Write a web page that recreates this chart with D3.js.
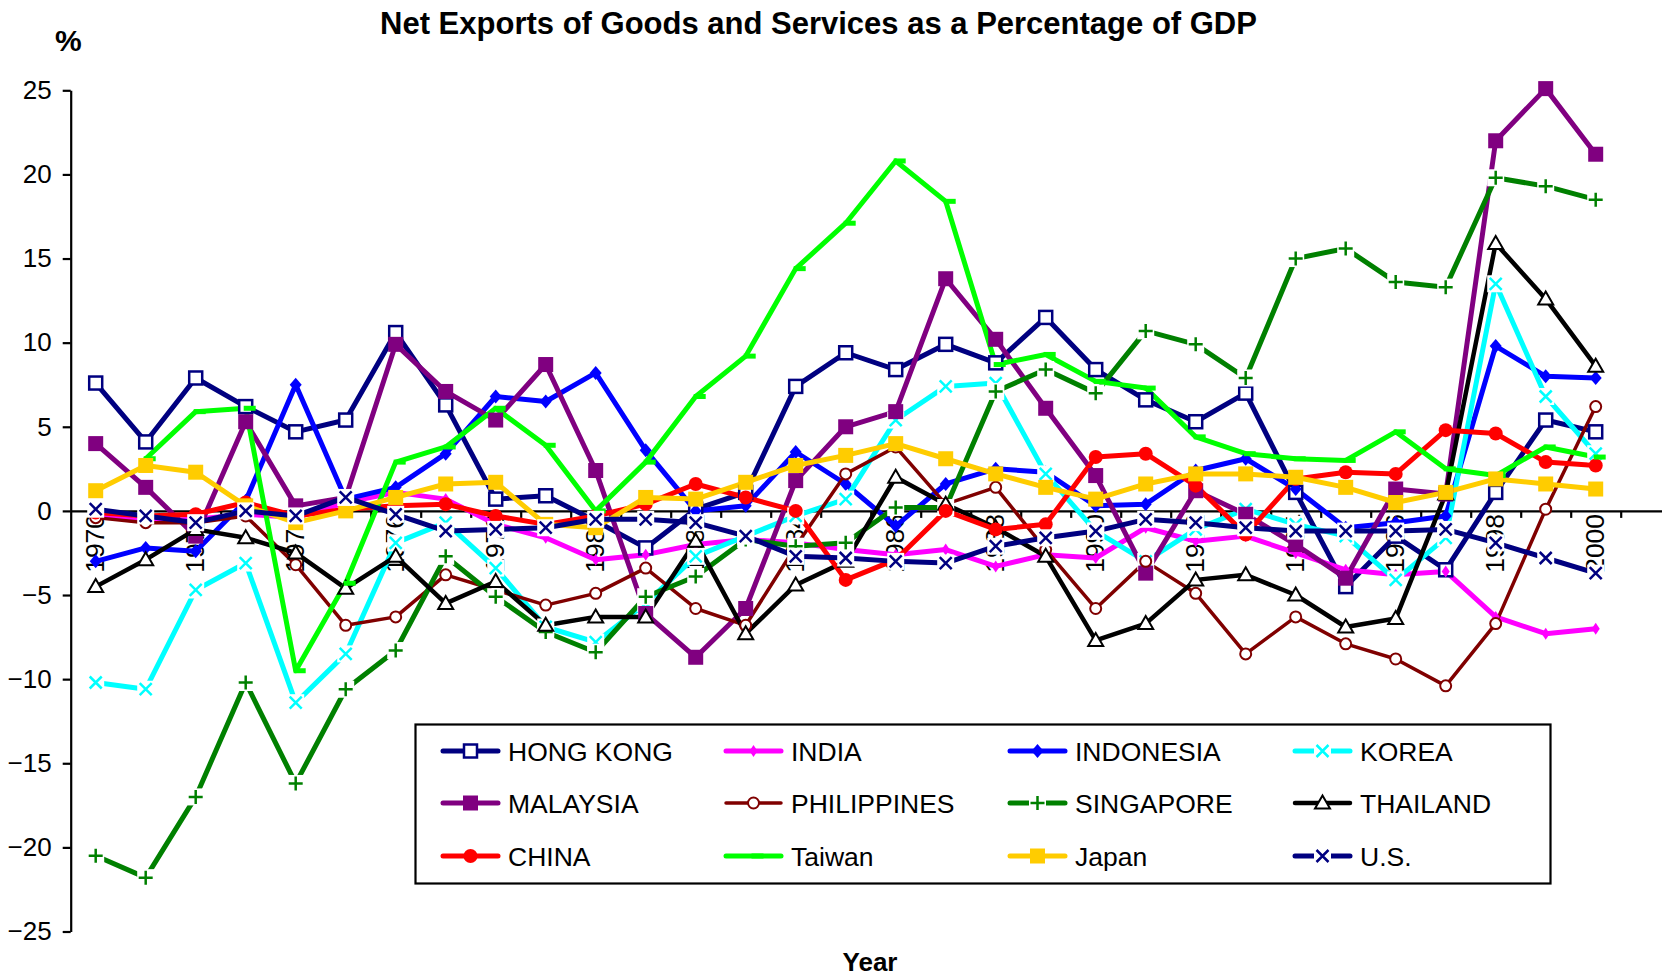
<!DOCTYPE html>
<html>
<head>
<meta charset="utf-8">
<script src="https://cdn.jsdelivr.net/npm/d3@7"></script>
<style>
  html, body { margin: 0; padding: 0; background: #fff; }
  svg { display: block; font-family: "Liberation Sans", Arial, sans-serif; }
</style>
</head>
<body>
<svg id="chart" width="1662" height="978"></svg>
<script>
// Net exports of goods and services, % of GDP, 1970-2000
const years = d3.range(1970, 2001);
const yTicks = [-25, -20, -15, -10, -5, 0, 5, 10, 15, 20, 25];
const yearLabels = [1970, 1972, 1974, 1976, 1978, 1980, 1982, 1984, 1986, 1988, 1990, 1992, 1994, 1996, 1998, 2000];

const hongKong    = [7.6, 4.1, 7.9, 6.2, 4.7, 5.4, 10.6, 6.3, 0.7, 0.9, -0.6, -2.2, 0.1, 1.1, 7.4, 9.4, 8.4, 9.9, 8.8, 11.5, 8.4, 6.6, 5.3, 7.0, 1.1, -4.5, -1.5, -3.5, 1.1, 5.4, 4.7];
const india       = [-0.3, -0.6, -0.5, -0.2, -0.4, 0.5, 1.1, 0.7, -0.8, -1.6, -2.9, -2.6, -2.0, -1.7, -1.9, -2.3, -2.6, -2.3, -3.3, -2.6, -2.8, -1.0, -1.8, -1.5, -2.5, -3.5, -3.8, -3.6, -6.3, -7.3, -7.0];
const indonesia   = [-3.0, -2.2, -2.4, 0.6, 7.5, 0.7, 1.4, 3.4, 6.8, 6.5, 8.2, 3.6, 0.0, 0.3, 3.5, 1.6, -0.9, 1.6, 2.5, 2.3, 0.3, 0.4, 2.4, 3.1, 1.3, -1.0, -0.7, -0.3, 9.8, 8.0, 7.9];
const korea       = [-10.2, -10.6, -4.7, -3.1, -11.4, -8.5, -1.9, -0.7, -3.4, -6.9, -7.8, -5.5, -2.7, -1.5, -0.3, 0.7, 5.4, 7.4, 7.6, 2.2, -1.2, -3.0, -1.1, 0.1, -0.8, -1.5, -4.1, -1.6, 13.5, 6.8, 3.4];
const malaysia    = [4.0, 1.4, -1.5, 5.3, 0.3, 0.8, 9.9, 7.1, 5.4, 8.7, 2.4, -6.1, -8.7, -5.8, 1.8, 5.0, 5.9, 13.8, 10.2, 6.1, 2.1, -3.7, 1.2, -0.2, -2.0, -4.0, 1.3, 1.0, 22.0, 25.1, 21.2];
const philippines = [-0.4, -0.7, -0.7, -0.3, -3.2, -6.8, -6.3, -3.8, -4.7, -5.6, -4.9, -3.4, -5.8, -6.8, -2.1, 2.2, 3.8, 0.4, 1.4, -2.3, -5.8, -3.0, -4.9, -8.5, -6.3, -7.9, -8.8, -10.4, -6.7, 0.1, 6.2];
const singapore   = [-20.5, -21.8, -17.0, -10.2, -16.2, -10.6, -8.3, -2.7, -5.1, -7.2, -8.4, -5.1, -3.9, -1.7, -2.1, -1.9, 0.2, 0.2, 7.1, 8.4, 7.0, 10.7, 9.9, 7.9, 15.0, 15.6, 13.6, 13.3, 19.8, 19.3, 18.5];
const thailand    = [-4.5, -2.9, -1.1, -1.6, -2.5, -4.6, -2.7, -5.5, -4.2, -6.8, -6.3, -6.3, -1.8, -7.3, -4.4, -3.0, 2.0, 0.4, -1.0, -2.7, -7.7, -6.7, -4.1, -3.8, -5.0, -6.9, -6.4, 1.0, 15.9, 12.6, 8.6];
const china       = [-0.1, -0.3, -0.2, 0.5, -0.3, 0.1, 0.3, 0.4, -0.3, -0.8, -0.3, 0.4, 1.6, 0.8, 0.0, -4.1, -2.9, 0.0, -1.1, -0.8, 3.2, 3.4, 1.5, -1.4, 1.9, 2.3, 2.2, 4.8, 4.6, 2.9, 2.7];
const taiwan      = [null, 3.1, 5.9, 6.1, -9.5, -4.3, 2.9, 3.8, 6.1, 3.9, 0.0, 2.9, 6.8, 9.2, 14.4, 17.1, 20.8, 18.4, 8.7, 9.3, 7.7, 7.3, 4.4, 3.4, 3.1, 3.0, 4.7, 2.5, 2.1, 3.8, 3.2];
const japan       = [1.2, 2.7, 2.3, 0.3, -0.7, 0.0, 0.8, 1.6, 1.7, -0.8, -1.0, 0.8, 0.7, 1.7, 2.7, 3.3, 4.0, 3.1, 2.2, 1.4, 0.7, 1.6, 2.2, 2.2, 2.0, 1.4, 0.5, 1.1, 1.9, 1.6, 1.3];
const us          = [0.1, -0.3, -0.7, 0.0, -0.3, 0.8, -0.2, -1.2, -1.1, -1.0, -0.5, -0.5, -0.7, -1.5, -2.7, -2.8, -3.0, -3.1, -2.1, -1.6, -1.2, -0.5, -0.7, -1.0, -1.2, -1.2, -1.2, -1.1, -1.9, -2.8, -3.7];

const seriesNames = ["HONG KONG", "INDIA", "INDONESIA", "KOREA", "MALAYSIA", "PHILIPPINES",
                     "SINGAPORE", "THAILAND", "CHINA", "Taiwan", "Japan", "U.S."];
const seriesValues = [hongKong, india, indonesia, korea, malaysia, philippines,
                      singapore, thailand, china, taiwan, japan, us];

// drawing style for each series, in legend order
const styles = [
  { color: "#000080", width: 5,   marker: "squareOpen" },
  { color: "#FF00FF", width: 5,   marker: "diamondSmall" },
  { color: "#0000FF", width: 5,   marker: "diamond" },
  { color: "#00FFFF", width: 5,   marker: "cross" },
  { color: "#800080", width: 5,   marker: "squareFilled" },
  { color: "#800000", width: 3.5, marker: "circleOpen" },
  { color: "#008000", width: 5,   marker: "plus" },
  { color: "#000000", width: 4.5, marker: "triangleOpen" },
  { color: "#FF0000", width: 5,   marker: "circleFilled" },
  { color: "#00FF00", width: 5,   marker: "dash" },
  { color: "#FFCC00", width: 5,   marker: "squareFilled" },
  { color: "#000080", width: 5,   marker: "cross" }
];

const series = seriesNames.map((name, i) => ({ name, values: seriesValues[i], ...styles[i] }));

const W = 1662, H = 978;
const svg = d3.select("#chart");
svg.append("rect").attr("width", W).attr("height", H).attr("fill", "#fff");

const x = d3.scaleLinear().domain([1969.5, 2001.5]).range([70.7, 1670.7]);
const y = d3.scaleLinear().domain([-25, 25]).range([931.5, 90.3]);

// ---- axes ----
const yAxis = svg.append("g")
  .attr("transform", `translate(${x(1969.5)},0)`)
  .call(d3.axisLeft(y).tickValues(yTicks).tickSize(8).tickSizeOuter(0).tickPadding(11).tickFormat(d3.format("d")));
yAxis.select(".domain").attr("stroke", "#000").attr("stroke-width", 2.2);
yAxis.selectAll(".tick line").attr("stroke", "#000").attr("stroke-width", 2.2);
yAxis.selectAll(".tick text").attr("fill", "#000").attr("font-size", 26)
  .attr("font-family", "Liberation Sans, Arial, sans-serif");

const xAxis = svg.append("g")
  .attr("transform", `translate(0,${y(0)})`)
  .call(d3.axisBottom(x).tickValues(d3.range(1970.5, 2002, 1)).tickSize(7).tickSizeOuter(0).tickFormat(""));
xAxis.select(".domain").attr("stroke", "#000").attr("stroke-width", 2.2);
xAxis.selectAll(".tick line").attr("stroke", "#000").attr("stroke-width", 2.2);

// rotated year labels hanging below the zero line
svg.append("g").selectAll("text").data(yearLabels).join("text")
  .attr("transform", d => `translate(${x(d) - 1},${y(0) + 3}) rotate(-90)`)
  .attr("text-anchor", "end")
  .attr("dy", "0.36em")
  .attr("font-size", 26.5)
  .attr("fill", "#000")
  .text(d => d);

// ---- lines (all series first, markers on top) ----
const line = d3.line()
  .defined(d => d != null)
  .x((d, i) => x(years[i]))
  .y(d => y(d));

const linesG = svg.append("g");
series.forEach(s => {
  linesG.append("path")
    .attr("d", line(s.values))
    .attr("fill", "none")
    .attr("stroke", s.color)
    .attr("stroke-width", s.width)
    .attr("stroke-linejoin", "round")
    .attr("stroke-linecap", "round");
});

function drawMarker(g, type, color, cx, cy) {
  switch (type) {
    case "squareOpen":
      g.append("rect").attr("x", cx - 6.5).attr("y", cy - 6.5).attr("width", 13).attr("height", 13)
        .attr("fill", "#fff").attr("stroke", color).attr("stroke-width", 2.5);
      break;
    case "squareFilled":
      g.append("rect").attr("x", cx - 7.5).attr("y", cy - 7.5).attr("width", 15).attr("height", 15)
        .attr("fill", color);
      break;
    case "diamond":
      g.append("path").attr("d", `M${cx},${cy - 7}L${cx + 6},${cy}L${cx},${cy + 7}L${cx - 6},${cy}Z`)
        .attr("fill", color);
      break;
    case "diamondSmall":
      g.append("path").attr("d", `M${cx},${cy - 6}L${cx + 4},${cy}L${cx},${cy + 6}L${cx - 4},${cy}Z`)
        .attr("fill", color);
      break;
    case "cross":
      g.append("rect").attr("x", cx - 8.5).attr("y", cy - 8.5).attr("width", 17).attr("height", 17).attr("fill", "#fff");
      g.append("path").attr("d", `M${cx - 6},${cy - 6}L${cx + 6},${cy + 6}M${cx - 6},${cy + 6}L${cx + 6},${cy - 6}`)
        .attr("stroke", color).attr("stroke-width", 2.5).attr("fill", "none");
      break;
    case "plus":
      g.append("rect").attr("x", cx - 8.5).attr("y", cy - 8.5).attr("width", 17).attr("height", 17).attr("fill", "#fff");
      g.append("path").attr("d", `M${cx - 7},${cy}L${cx + 7},${cy}M${cx},${cy - 7}L${cx},${cy + 7}`)
        .attr("stroke", color).attr("stroke-width", 2.5).attr("fill", "none");
      break;
    case "circleOpen":
      g.append("circle").attr("cx", cx).attr("cy", cy).attr("r", 5.5)
        .attr("fill", "#fff").attr("stroke", color).attr("stroke-width", 2);
      break;
    case "circleFilled":
      g.append("circle").attr("cx", cx).attr("cy", cy).attr("r", 7).attr("fill", color);
      break;
    case "triangleOpen":
      g.append("path").attr("d", `M${cx},${cy - 7.5}L${cx + 7.5},${cy + 5.5}L${cx - 7.5},${cy + 5.5}Z`)
        .attr("fill", "#fff").attr("stroke", color).attr("stroke-width", 2).attr("stroke-linejoin", "miter");
      break;
    case "dash":
      g.append("rect").attr("x", cx - 2).attr("y", cy - 2.5).attr("width", 12).attr("height", 5).attr("fill", color);
      break;
  }
}

const markersG = svg.append("g");
series.forEach(s => {
  const g = markersG.append("g");
  s.values.forEach((v, i) => {
    if (v == null) return;
    drawMarker(g, s.marker, s.color, x(years[i]), y(v));
  });
});

// ---- legend ----
const legend = svg.append("g");
legend.append("rect").attr("x", 415.5).attr("y", 724.5).attr("width", 1135).attr("height", 159)
  .attr("fill", "#fff").attr("stroke", "#000").attr("stroke-width", 2.2);
const colX = [443, 726, 1010, 1295];
const rowY = [751, 803, 856];
series.forEach((s, i) => {
  const lx = colX[i % 4], ly = rowY[Math.floor(i / 4)];
  const g = legend.append("g");
  g.append("line").attr("x1", lx).attr("x2", lx + 55).attr("y1", ly).attr("y2", ly)
    .attr("stroke", s.color).attr("stroke-width", s.width).attr("stroke-linecap", "round");
  drawMarker(g, s.marker, s.color, lx + 27.5, ly);
  g.append("text").attr("x", lx + 65).attr("y", ly).attr("dy", "0.36em")
    .attr("font-size", 26.5).attr("fill", "#000").text(s.name);
});

// ---- titles ----
svg.append("text").attr("x", 818.5).attr("y", 34).attr("text-anchor", "middle")
  .attr("font-size", 31).attr("font-weight", "bold").attr("fill", "#000")
  .text("Net Exports of Goods and Services as a Percentage of GDP");
svg.append("text").attr("x", 55).attr("y", 51)
  .attr("font-size", 30).attr("font-weight", "bold").attr("fill", "#000").text("%");
svg.append("text").attr("x", 870).attr("y", 971).attr("text-anchor", "middle")
  .attr("font-size", 26).attr("font-weight", "bold").attr("fill", "#000").text("Year");
</script>
</body>
</html>
